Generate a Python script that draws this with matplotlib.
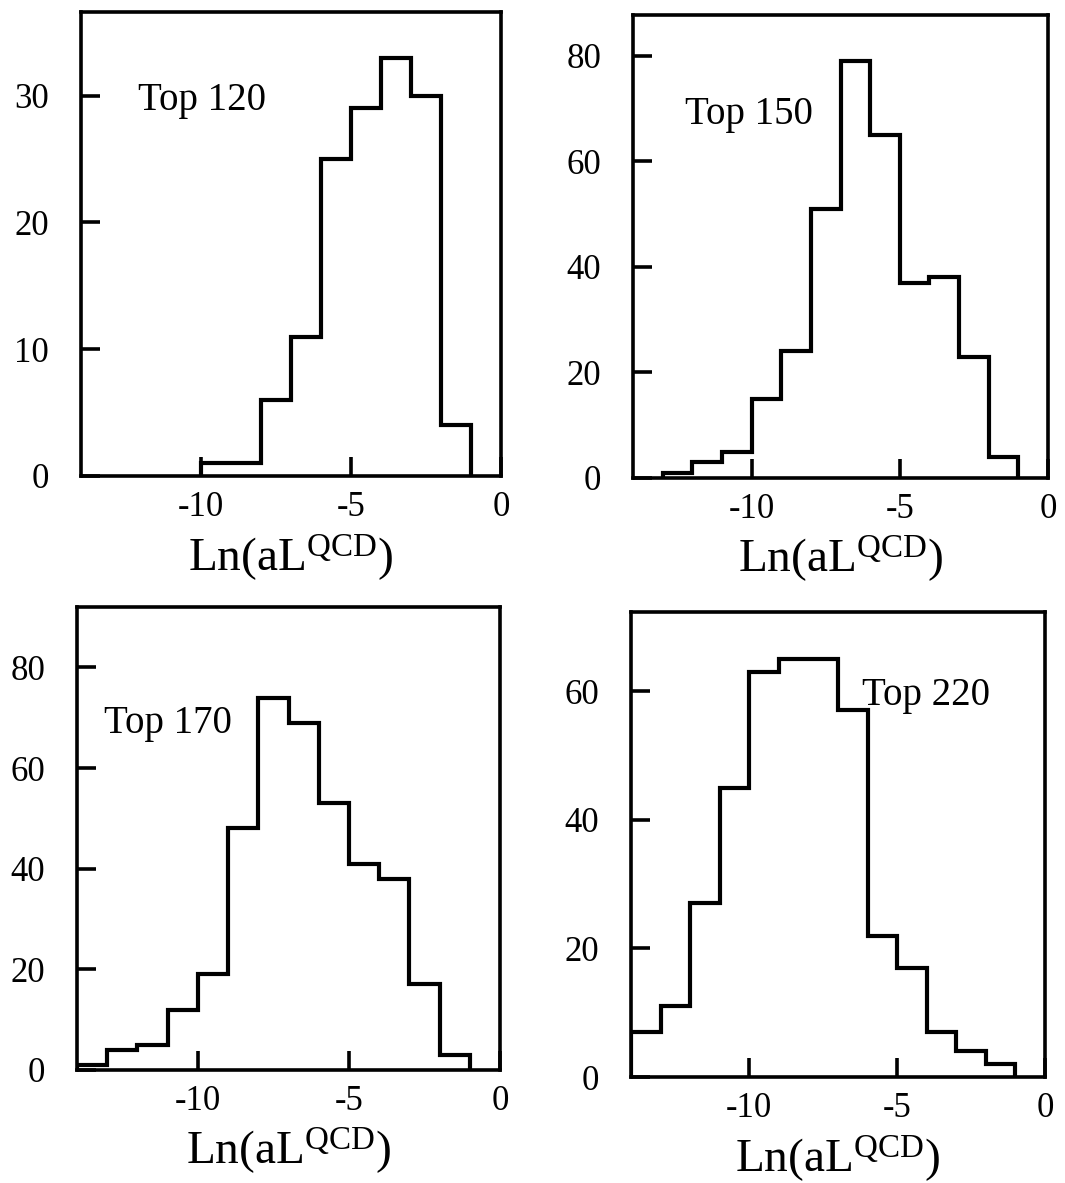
import matplotlib
matplotlib.use("Agg")
import matplotlib.pyplot as plt

plt.rcParams['font.family'] = ['Liberation Serif', 'DejaVu Serif']
plt.rcParams['mathtext.fontset'] = 'custom'
plt.rcParams['mathtext.rm'] = 'Liberation Serif'
plt.rcParams['mathtext.it'] = 'Liberation Serif:italic'
plt.rcParams['mathtext.bf'] = 'Liberation Serif:bold'

# ---- data (counts per bin of Ln(aL^QCD)) ----
labels = ["Top 120", "Top 150", "Top 170", "Top 220"]

edges_120 = [-10, -9, -8, -7, -6, -5, -4, -3, -2, -1]
counts_120 = [1, 1, 6, 11, 25, 29, 33, 30, 4]

edges_150 = [-13, -12, -11, -10, -9, -8, -7, -6, -5, -4, -3, -2, -1]
counts_150 = [1, 3, 5, 15, 24, 51, 79, 65, 37, 38, 23, 4]

edges_170 = [-14, -13, -12, -11, -10, -9, -8, -7, -6, -5, -4, -3, -2, -1]
counts_170 = [1, 4, 5, 12, 19, 48, 74, 69, 53, 41, 38, 17, 3]

edges_220 = [-14, -13, -12, -11, -10, -9, -8, -7, -6, -5, -4, -3, -2, -1]
counts_220 = [7, 11, 27, 45, 63, 65, 65, 57, 22, 17, 7, 4, 2]

x_ticks = [-10, -5, 0]
y_ticks_120 = [0, 10, 20, 30]
y_ticks_150 = [0, 20, 40, 60, 80]
y_ticks_170 = [0, 20, 40, 60, 80]
y_ticks_220 = [0, 20, 40, 60]

W, H = 1065, 1183
fig = plt.figure(figsize=(W / 100, H / 100), dpi=100)


def px_axes(left, top, right, bottom):
    return fig.add_axes([left / W, (H - bottom) / H, (right - left) / W, (bottom - top) / H])


panels = [
    dict(box=(81, 12, 501, 476), edges=edges_120, counts=counts_120, yt=y_ticks_120,
         ymax=36.6, label=labels[0], lpos=(-12.1, 28.9)),
    dict(box=(633, 15, 1048, 478), edges=edges_150, counts=counts_150, yt=y_ticks_150,
         ymax=87.7, label=labels[1], lpos=(-12.25, 67.0)),
    dict(box=(77, 607, 500, 1070), edges=edges_170, counts=counts_170, yt=y_ticks_170,
         ymax=92.0, label=labels[2], lpos=(-13.1, 67.0)),
    dict(box=(631, 612, 1045, 1077), edges=edges_220, counts=counts_220, yt=y_ticks_220,
         ymax=72.3, label=labels[3], lpos=(-6.2, 57.8)),
]

for p in panels:
    ax = px_axes(*p['box'])
    ax.stairs(p['counts'], p['edges'], baseline=0, color='black', linewidth=3.0)
    ax.set_xlim(-14, 0)
    ax.set_ylim(0, p['ymax'])
    ax.set_xticks(x_ticks)
    ax.set_xticklabels([str(t) for t in x_ticks])
    ax.set_yticks(p['yt'])
    for s in ax.spines.values():
        s.set_linewidth(2.6)
    ax.tick_params(axis='both', direction='in', length=14, width=2.6,
                   labelsize=25, top=False, right=False)
    ax.tick_params(axis='y', pad=23)
    ax.tick_params(axis='x', pad=11)
    ax.set_xlabel(r'Ln(aL$^{\rm QCD}$)', fontsize=34)
    ax.xaxis.set_label_coords(0.5, -0.12)
    ax.text(p['lpos'][0], p['lpos'][1], p['label'], fontsize=28,
            ha='left', va='baseline')

fig.savefig("out.png", dpi=100)
